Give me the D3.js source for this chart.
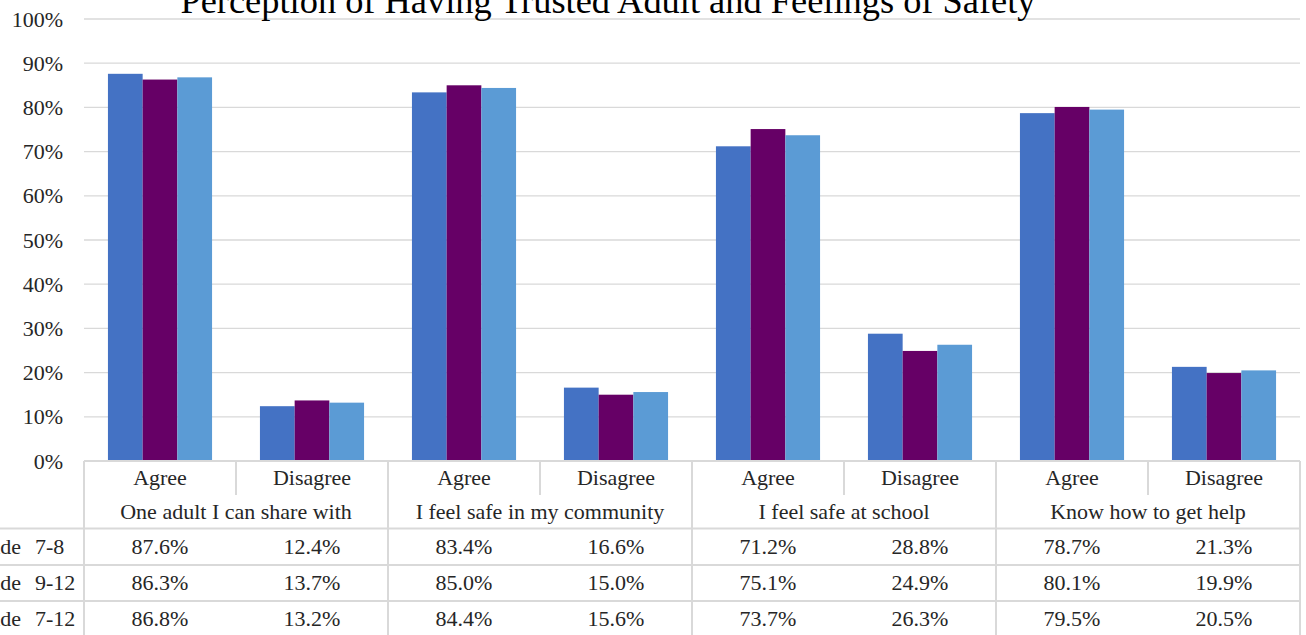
<!DOCTYPE html>
<html><head><meta charset="utf-8">
<script src="https://cdn.jsdelivr.net/npm/d3@7"></script>
<style>
html,body{margin:0;padding:0;background:#fff;overflow:hidden}
svg{display:block}
</style></head><body>
<svg id="c" width="1306" height="635" font-family="'Liberation Serif', 'Times New Roman', serif"></svg>
<script>
const title = "Perception of Having Trusted Adult and Feelings of Safety";
const groups = ["One adult I can share with","I feel safe in my community","I feel safe at school","Know how to get help"];
const responses = ["Agree","Disagree"];
const seriesNames = ["Grade 7-8","Grade 9-12","Grade 7-12"];
const grade78  = [87.6,12.4,83.4,16.6,71.2,28.8,78.7,21.3];
const grade912 = [86.3,13.7,85.0,15.0,75.1,24.9,80.1,19.9];
const grade712 = [86.8,13.2,84.4,15.6,73.7,26.3,79.5,20.5];
const yTicks = [0,10,20,30,40,50,60,70,80,90,100];
const colors = ["#4472C4","#660066","#5B9BD5"];

const FONT = "'Liberation Serif', 'Times New Roman', serif";
const series = [grade78, grade912, grade712];
const cats = [];
groups.forEach((g,gi)=>responses.forEach((r,ri)=>cats.push({g,r,key:gi*2+ri})));

const svg = d3.select("#c");
const L=84, R=1300, T=19, B=461;
const x = d3.scaleBand().domain(cats.map(c=>c.key)).range([L,R]).paddingInner(0.315).paddingOuter(0.1575);
const xCol = d3.scaleBand().domain(cats.map(c=>c.key)).range([L,R]);
const xs = d3.scaleBand().domain([0,1,2]).range([0,x.bandwidth()]);
const y = d3.scaleLinear().domain([0,100]).range([B,T]);

// gridlines
svg.append("g").selectAll("line").data(yTicks.filter(t=>t>0)).join("line")
  .attr("x1",L).attr("x2",R).attr("y1",d=>y(d)).attr("y2",d=>y(d))
  .attr("stroke","#d9d9d9").attr("stroke-width",1.3);

// y axis labels
const yAxis = d3.axisLeft(y).tickValues(yTicks).tickFormat(d=>d+"%").tickSize(0).tickPadding(21);
const ya = svg.append("g").attr("transform",`translate(${L},0)`).call(yAxis);
ya.attr("font-family",FONT).attr("font-size",22);
ya.select(".domain").remove();
ya.selectAll("text").attr("fill","#262626").style("font-family",FONT).style("font-size","22px");

// bars
series.forEach((s,si)=>{
  svg.append("g").selectAll("rect").data(cats).join("rect")
    .attr("x",c=>x(c.key)+xs(si)).attr("width",xs.bandwidth())
    .attr("y",c=>y(s[c.key])).attr("height",c=>B-y(s[c.key]))
    .attr("fill",colors[si]);
});

// title
svg.append("text").attr("x",608).attr("y",13).attr("text-anchor","middle")
  .style("font-family",FONT).style("font-size","36.4px").attr("fill","#000").text(title);

// data table
const rowH = [34,33.5,36.5,36,36];
const r0=B, r1=r0+rowH[0], r2=r1+rowH[1], r3=r2+rowH[2], r4=r3+rowH[3];
const rowTops=[r2,r3,r4];
const tg = svg.append("g");
const grid = "#d9d9d9";
function line(x1,y1,x2,y2){tg.append("line").attr("x1",x1).attr("y1",y1).attr("x2",x2).attr("y2",y2).attr("stroke",grid).attr("stroke-width",2);}
line(L,r0,R,r0);
line(L,r2,R,r2);
line(0,r2,L,r2); line(0,r3,R,r3); line(0,r4,R,r4);
line(L,r0,L,635); line(R,r0,R,635);
cats.forEach(c=>{
  const xl = xCol(c.key);
  if(c.key===0) return;
  if(c.key%2===1) line(xl,r0,xl,r1); else line(xl,r0,xl,635);
});
const fs="22px";
function txt(sel){return sel.style("font-family",FONT).style("font-size",fs).attr("fill","#262626");}
txt(tg.selectAll("text.resp").data(cats).join("text").attr("class","resp")
  .attr("x",c=>xCol(c.key)+xCol.bandwidth()/2).attr("y",r0+24).attr("text-anchor","middle")
  .text(c=>c.r));
txt(tg.selectAll("text.grp").data(groups).join("text").attr("class","grp")
  .attr("x",(g,i)=>xCol(i*2)+xCol.bandwidth()).attr("y",r1+24).attr("text-anchor","middle")
  .text(g=>g));
series.forEach((s,si)=>{
  const parts = seriesNames[si].split(" ");
  const t = txt(tg.append("text").attr("y",rowTops[si]+25));
  t.append("tspan").attr("x",21).attr("text-anchor","end").text(parts[0]);
  t.append("tspan").attr("x",35).attr("text-anchor","start").text(" " + parts[1]).attr("dx",-5.5);
  txt(tg.selectAll(null).data(cats).join("text")
    .attr("x",c=>xCol(c.key)+xCol.bandwidth()/2).attr("y",rowTops[si]+25).attr("text-anchor","middle")
    .text(c=>s[c.key].toFixed(1)+"%"));
});
</script>
</body></html>
